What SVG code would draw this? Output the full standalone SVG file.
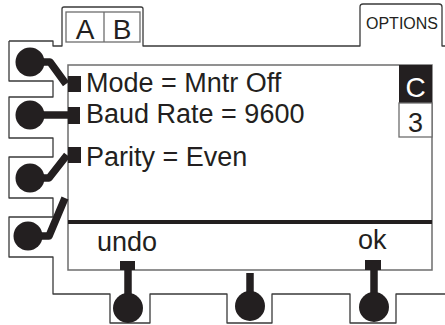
<svg xmlns="http://www.w3.org/2000/svg" width="445" height="325" viewBox="0 0 445 325">
<style>
.frame{fill:none;stroke:#3a3a3a;stroke-width:1.3;stroke-linejoin:round}
.disp{fill:none;stroke:#6d6d6d;stroke-width:1.5}
.ink{fill:#231f20}
.wire{fill:none;stroke:#231f20;stroke-width:7.5;stroke-linejoin:round}
.t{font-family:"Liberation Sans",Arial,sans-serif;fill:#231f20}
</style>
<rect width="445" height="325" fill="#fff"/>
<g id="frame">
<path class="frame" d="M9,41 H53 V46 H62 V9 Q62,7 64,7 H141 Q143,7 143,9 V46 H360 V7 Q360,4 363,4 H439 Q442,4 442,7 V46 H445"/>
<path class="frame" d="M9,41 V81 H53 V97 H9 V138 H53 V157 H9 V198 H53 V217 H9 V257 H53 V294 H110 V323 H150 V294 H227 V323 H272 V294 H350 V323 H396 V294 H445"/>
</g>
<g id="tab-ab">
<rect x="66" y="12" width="74" height="30" fill="none" stroke="#6d6d6d" stroke-width="1.3"/>
<line x1="104" y1="12" x2="104" y2="42" stroke="#6d6d6d" stroke-width="1.3"/>
<text class="t" x="85" y="38.5" font-size="28" text-anchor="middle">A</text>
<text class="t" x="122" y="38.5" font-size="28" text-anchor="middle">B</text>
</g>
<g id="tab-options">
<text class="t" x="402" y="29" font-size="16" text-anchor="middle">OPTIONS</text>
</g>
<g id="display">
<rect class="disp" x="68" y="65" width="364" height="205"/>
<line x1="68" y1="222" x2="432" y2="222" stroke="#231f20" stroke-width="4"/>
<rect class="ink" x="399" y="65" width="33" height="38"/>
<rect x="399" y="103" width="33" height="34" fill="#fff" stroke="#6d6d6d" stroke-width="1.3"/>
<text x="415.5" y="97" font-size="28" text-anchor="middle" fill="#fff" font-family="Liberation Sans,Arial,sans-serif">C</text>
<text class="t" x="415.5" y="132" font-size="27" text-anchor="middle">3</text>
<text class="t" x="86" y="92" font-size="27">Mode = Mntr Off</text>
<text class="t" x="86" y="123" font-size="27">Baud Rate = 9600</text>
<text class="t" x="86" y="166" font-size="27">Parity = Even</text>
<text class="t" x="97" y="251" font-size="27">undo</text>
<text class="t" x="358" y="249" font-size="27">ok</text>
</g>
<g id="connectors">
<path class="wire" d="M30,62 H50 L66,84"/>
<path class="wire" d="M30,115 H68"/>
<path class="wire" d="M30,178 H49 L67,155"/>
<path class="wire" d="M28,236 H49 L65,198"/>
<path class="wire" d="M128,268 V300"/>
<path class="wire" d="M250,273 V300"/>
<path class="wire" d="M374,268 V300"/>
</g>
<g id="btn-left-1"><circle class="ink" cx="30" cy="62" r="14.5"/><rect class="ink" x="68" y="76" width="13" height="16"/></g>
<g id="btn-left-2"><circle class="ink" cx="30" cy="115" r="14.5"/><rect class="ink" x="68" y="107" width="12" height="17"/></g>
<g id="btn-left-3"><circle class="ink" cx="30" cy="178" r="14.5"/><rect class="ink" x="68" y="147" width="13" height="16"/></g>
<g id="btn-left-4"><circle class="ink" cx="28" cy="236" r="14.5"/></g>
<g id="btn-bottom-1"><circle class="ink" cx="128" cy="308" r="15"/><rect class="ink" x="120" y="261" width="15" height="9"/></g>
<g id="btn-bottom-2"><circle class="ink" cx="250" cy="306" r="15"/></g>
<g id="btn-bottom-3"><circle class="ink" cx="374" cy="307" r="15"/><rect class="ink" x="365" y="260" width="16" height="10"/></g>
</svg>
